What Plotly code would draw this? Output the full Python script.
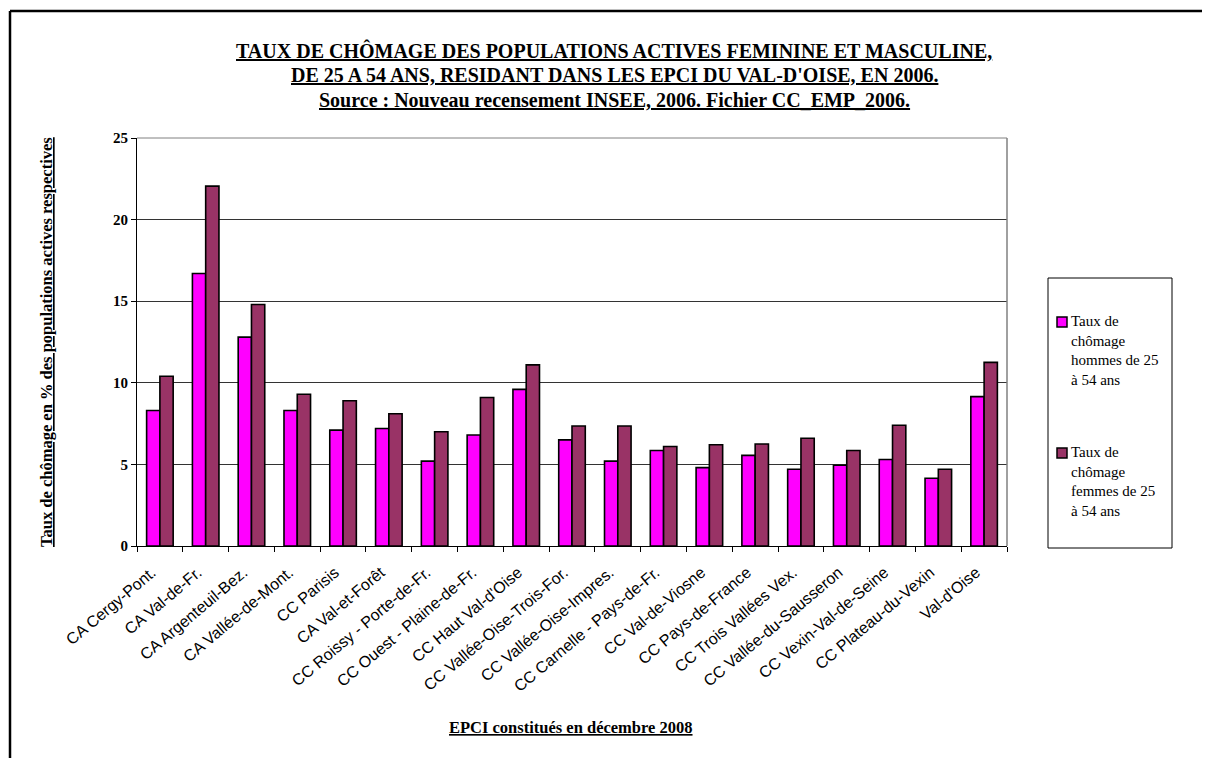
import plotly.graph_objects as go

categories = [
    "CA Cergy-Pont.", "CA Val-de-Fr.", "CA Argenteuil-Bez.", "CA Vallée-de-Mont.",
    "CC Parisis", "CA Val-et-Forêt", "CC Roissy - Porte-de-Fr.", "CC Ouest - Plaine-de-Fr.",
    "CC Haut Val-d'Oise", "CC Vallée-Oise-Trois-For.", "CC Vallée-Oise-Impres.",
    "CC Carnelle - Pays-de-Fr.", "CC Val-de-Viosne", "CC Pays-de-France",
    "CC Trois Vallées Vex.", "CC Vallée-du-Sausseron", "CC Vexin-Val-de-Seine",
    "CC Plateau-du-Vexin", "Val-d'Oise",
]
hommes = [8.3, 16.7, 12.8, 8.3, 7.1, 7.2, 5.2, 6.8, 9.6, 6.5, 5.2, 5.85, 4.8, 5.55, 4.7, 4.95, 5.3, 4.15, 9.15]
femmes = [10.4, 22.05, 14.8, 9.3, 8.9, 8.1, 7.0, 9.1, 11.1, 7.35, 7.35, 6.1, 6.2, 6.25, 6.6, 5.85, 7.4, 4.7, 11.25]
series_names = ["Taux de<br>chômage<br>hommes de 25<br>à 54 ans",
                "Taux de<br>chômage<br>femmes de 25<br>à 54 ans"]
series_colors = ["#FF00FF", "#993366"]
yticks = [0, 5, 10, 15, 20, 25]

# page has an 8px body margin: work in screen coords, convert to figure coords
OFF = 8
W, H = 1210 - OFF, 758 - OFF
L, R, T, B = 137 - OFF, 1007 - OFF, 138 - OFF, 546 - OFF


def px(x):
    return (x - OFF - L) / (R - L)


def py(y):
    return (B - (y - OFF)) / (B - T)


serif = "Liberation Serif, Times New Roman, serif"
sans = "Liberation Sans, Arial, sans-serif"

fig = go.Figure()
for name, vals, col in zip(series_names, [hommes, femmes], series_colors):
    fig.add_trace(go.Bar(x=categories, y=vals, name=name, showlegend=False,
                         marker=dict(color=col, line=dict(color="black", width=1.6))))

shapes = [
    # plot area border (gray) right & top
    dict(type="line", xref="paper", yref="paper", x0=1, x1=1, y0=0, y1=1,
         line=dict(color="#808080", width=1.5)),
    dict(type="line", xref="paper", yref="paper", x0=0, x1=1, y0=1, y1=1,
         line=dict(color="#808080", width=1)),
    # legend box
    dict(type="rect", xref="paper", yref="paper", x0=px(1048), x1=px(1172),
         y0=py(548), y1=py(278), line=dict(color="black", width=1)),
    # outer frame (top and left)
    dict(type="line", xref="paper", yref="paper", x0=px(10), x1=px(1215),
         y0=py(11), y1=py(11), line=dict(color="black", width=2.5)),
    dict(type="line", xref="paper", yref="paper", x0=px(10), x1=px(10),
         y0=py(11), y1=py(765), line=dict(color="black", width=2.5)),
]

# manual legend: swatches + texts
legend_tops = [317, 448]
for name, col, top in zip(series_names, series_colors, legend_tops):
    shapes.append(dict(type="rect", xref="paper", yref="paper",
                       x0=px(1057), x1=px(1067), y0=py(top + 10), y1=py(top),
                       fillcolor=col, line=dict(color="black", width=1.5)))

fig.update_layout(
    width=W, height=H,
    margin=dict(l=L, r=W - R, t=T, b=H - B, autoexpand=False),
    paper_bgcolor="white", plot_bgcolor="white",
    barmode="group", bargap=0.42, bargroupgap=0,
    showlegend=False,
    xaxis=dict(showline=True, linecolor="black", linewidth=1, ticks="outside",
               tickson="boundaries", ticklen=5, tickcolor="black",
               tickangle=-40, tickfont=dict(family=sans, size=16, color="black"),
               ticklabelstandoff=10, ticklabelshift=-8,
               showgrid=False, mirror=False),
    yaxis=dict(range=[0, 25], tickvals=yticks, showline=True, linecolor="black",
               linewidth=1, ticks="outside", ticklen=5, tickcolor="black",
               tickfont=dict(family=serif, size=15, color="black", weight="bold"),
               showgrid=True, gridcolor="#333", gridwidth=1, zeroline=False),
    shapes=shapes,
)

for name, top in zip(series_names, legend_tops):
    fig.add_annotation(text=name, xref="paper", yref="paper", x=px(1069), y=py(top - 6),
                       xanchor="left", yanchor="top", align="left", showarrow=False,
                       font=dict(family=serif, size=15, color="black"))

title_lines = [
    "TAUX DE CHÔMAGE DES POPULATIONS ACTIVES FEMININE ET MASCULINE,",
    "DE 25 A 54 ANS, RESIDANT DANS LES EPCI DU VAL-D'OISE, EN 2006.",
    "Source : Nouveau recensement INSEE, 2006. Fichier CC_EMP_2006.",
]
for i, t in enumerate(title_lines):
    fig.add_annotation(text="<b><u>" + t + "</u></b>", xref="paper", yref="paper",
                       x=px(614), y=py(50 + 25 * i), xanchor="center", yanchor="middle",
                       showarrow=False, font=dict(family=serif, size=20, color="black"))

fig.add_annotation(text="<b><u>EPCI constitués en décembre 2008</u></b>", xref="paper", yref="paper",
                   x=px(571), y=py(727), xanchor="center", yanchor="middle", showarrow=False,
                   font=dict(family=serif, size=16.5, color="black"))

fig.add_annotation(text="<b><u>Taux de chômage en % des populations actives respectives</u></b>",
                   xref="paper", yref="paper", x=px(46), y=py(342), textangle=-90,
                   xanchor="center", yanchor="middle", showarrow=False,
                   font=dict(family=serif, size=16.5, color="black"))

fig.write_html("out.html")
